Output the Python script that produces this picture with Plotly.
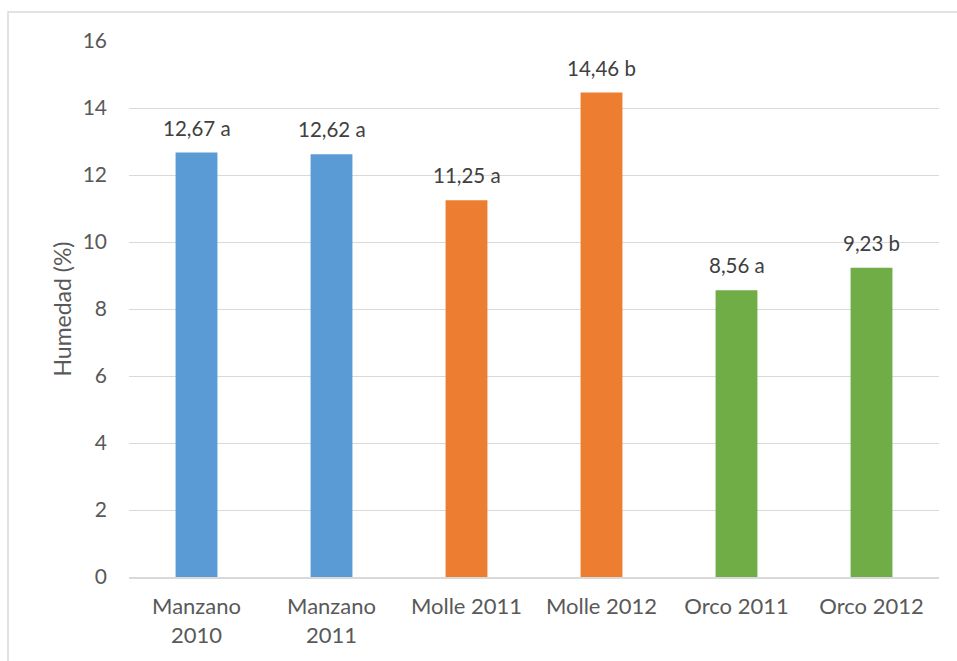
import plotly.graph_objects as go

categories = ["Manzano<br>2010", "Manzano<br>2011", "Molle 2011", "Molle 2012", "Orco 2011", "Orco 2012"]
values = [12.67, 12.62, 11.25, 14.46, 8.56, 9.23]
letters = ["a", "a", "a", "b", "a", "b"]
bar_colors = ["#5B9BD5", "#5B9BD5", "#ED7D31", "#ED7D31", "#70AD47", "#70AD47"]
y_ticks = [0, 2, 4, 6, 8, 10, 12, 14, 16]

labels = [f"{v:.2f}".replace(".", ",") + f" {l}" for v, l in zip(values, letters)]

W, H = 957, 661
ml, mr, mt, mb = 129, 18, 41, 84
pw, ph = W - ml - mr, H - mt - mb
FONT = "Lato, Open Sans, sans-serif"
TXT = "#595959"

fig = go.Figure(go.Bar(
    x=categories,
    y=values,
    marker=dict(color=bar_colors, line=dict(width=0)),
    width=0.31,
))

# value labels above each bar
for c, v, t in zip(categories, values, labels):
    fig.add_annotation(x=c, y=v, text=t, showarrow=False, yanchor="middle",
                       yshift=25, font=dict(family=FONT, size=20.5, color="#404040"))

# outer chart frame (top and left edges visible)
fx0 = (8 - ml) / pw
fy1 = (H - mb - 12) / ph
fig.add_shape(type="rect", xref="paper", yref="paper",
              x0=fx0, x1=1.2, y0=-0.3, y1=fy1,
              line=dict(color="#D9D9D9", width=1.5), layer="below")

fig.update_layout(
    width=W, height=H,
    margin=dict(l=ml, r=mr, t=mt, b=mb),
    paper_bgcolor="white", plot_bgcolor="white",
    font=dict(family=FONT, color=TXT, size=20),
    showlegend=False,
    xaxis=dict(showgrid=False, showline=True, linecolor="#D9D9D9", linewidth=1.5,
               ticks="", ticklabelstandoff=9, tickfont=dict(size=22, color=TXT)),
    yaxis=dict(range=[0, 16], tickvals=y_ticks, showgrid=True, gridcolor="#D9D9D9",
               gridwidth=1, zeroline=False, showline=False, ticks="",
               ticklabelstandoff=21, tickfont=dict(size=21, color=TXT),
               title=dict(text="Humedad (%)", font=dict(size=23, color=TXT), standoff=4)),
)

fig.write_html("out.html")
